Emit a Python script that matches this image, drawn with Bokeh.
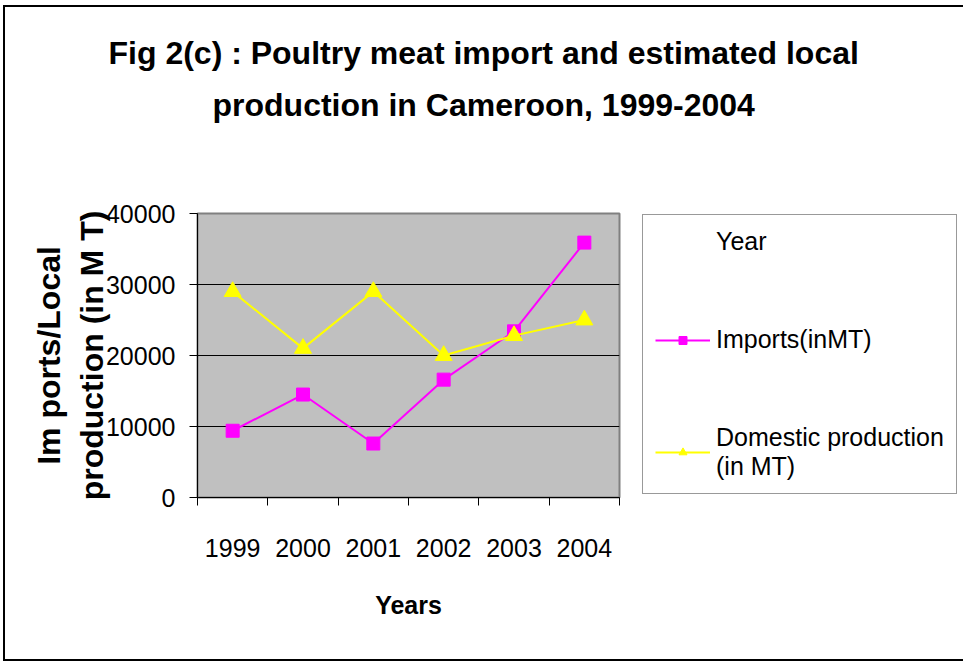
from bokeh.plotting import figure
from bokeh.models import (FixedTicker, Legend, LegendItem, Title, ColumnDataSource, Range1d)
from bokeh.embed import file_html
from bokeh.resources import INLINE

years = ["1999", "2000", "2001", "2002", "2003", "2004"]
imports_mt = [9400, 14500, 7600, 16600, 23400, 35900]
domestic_mt = [29000, 21000, 29000, 20000, 22800, 25000]
y_ticks = [0, 10000, 20000, 30000, 40000]

title_line1 = "Fig 2(c) : Poultry meat import and estimated local"
title_line2 = "production in Cameroon, 1999-2004"

FONT = "Liberation Sans"

xpos = [i + 0.5 for i in range(len(years))]
src = ColumnDataSource(dict(x=xpos, imp=imports_mt, dom=domestic_mt))

p = figure(frame_width=422, frame_height=284, output_backend="svg", toolbar_location=None,
           x_range=Range1d(0, len(years)), y_range=Range1d(0, 40000),
           min_border_left=192, min_border_top=206, min_border_right=340,
           min_border_bottom=162, title=None)
p.styles = {"border": "2px solid black", "margin-left": "3px", "margin-top": "5px"}

p.background_fill_color = "#C0C0C0"
p.border_fill_color = "white"
p.outline_line_color = "#808080"
p.outline_line_width = 2

# titles (first added is closest to the frame)
spacer = Title(text=" ", align="left", standoff=71, text_font_size="10px")
t2 = Title(text=title_line2, align="left", offset=15, standoff=14,
           text_font=FONT, text_font_style="bold", text_font_size="32px",
           text_color="black")
t1 = Title(text=title_line1, align="left", offset=-89, standoff=14,
           text_font=FONT, text_font_style="bold", text_font_size="32px",
           text_color="black")
p.add_layout(spacer, "above")
p.add_layout(t2, "above")
p.add_layout(t1, "above")

# grids
p.xgrid.visible = False
p.ygrid.ticker = FixedTicker(ticks=y_ticks[1:-1])
p.ygrid.grid_line_color = "black"
p.ygrid.grid_line_width = 1

# x axis
p.xaxis.ticker = FixedTicker(ticks=xpos, minor_ticks=list(range(len(years) + 1)))
p.xaxis.major_label_overrides = {x: y for x, y in zip(xpos, years)}
p.xaxis.major_tick_out = 0
p.xaxis.major_tick_in = 0
p.xaxis.minor_tick_out = 8
p.xaxis.minor_tick_in = 0
p.xaxis.minor_tick_line_color = "black"
p.xaxis.axis_line_color = "black"
p.xaxis.major_label_standoff = 33
p.xaxis.major_label_text_font = FONT
p.xaxis.major_label_text_font_size = "25px"
p.xaxis.major_label_text_color = "black"
p.xaxis.axis_label = "Years"
p.xaxis.axis_label_text_font = FONT
p.xaxis.axis_label_text_font_style = "bold"
p.xaxis.axis_label_text_font_size = "25px"
p.xaxis.axis_label_text_color = "black"
p.xaxis.axis_label_standoff = 31

# y axis
p.yaxis.ticker = FixedTicker(ticks=y_ticks)
p.yaxis.minor_tick_line_color = None
p.yaxis.major_tick_out = 8
p.yaxis.major_tick_in = 0
p.yaxis.major_tick_line_color = "black"
p.yaxis.axis_line_color = "black"
p.yaxis.major_label_standoff = 14
p.yaxis.major_label_text_font = FONT
p.yaxis.major_label_text_font_size = "25px"
p.yaxis.major_label_text_color = "black"
p.yaxis.axis_label = "Im ports/Local\nproduction (in M T)"
p.yaxis.axis_label_text_font = FONT
p.yaxis.axis_label_text_font_style = "bold"
p.yaxis.axis_label_text_font_size = "32px"
p.yaxis.axis_label_text_color = "black"
p.yaxis.axis_label_standoff = -7

# series
r_year = p.line(x=[], y=[], line_alpha=0)
l_imp = p.line("x", "imp", source=src, line_color="#FF00FF", line_width=2)
s_imp = p.scatter("x", "imp", source=src, marker="square", size=13,
                  fill_color="#FF00FF", line_color="#FF00FF")
l_dom = p.line("x", "dom", source=src, line_color="#FFFF00", line_width=2)
s_dom = p.scatter("x", "dom", source=src, marker="triangle", size=17,
                  fill_color="#FFFF00", line_color="#FFFF00")

legend = Legend(items=[
    LegendItem(label="Year", renderers=[r_year]),
    LegendItem(label="Imports(inMT)", renderers=[l_imp, s_imp]),
    LegendItem(label="Domestic production\n(in MT)", renderers=[l_dom, s_dom]),
], location=(23, 3))
legend.label_text_font = FONT
legend.label_text_font_size = "25px"
legend.label_text_color = "black"
legend.glyph_width = 55
legend.label_standoff = 6
legend.padding = 12
legend.spacing = 69
legend.margin = 0
legend.border_line_color = "#333333"
legend.border_line_width = 1
legend.background_fill_color = "white"
legend.background_fill_alpha = 1
p.add_layout(legend, "right")

open("out.html", "w").write(file_html(p, INLINE))
